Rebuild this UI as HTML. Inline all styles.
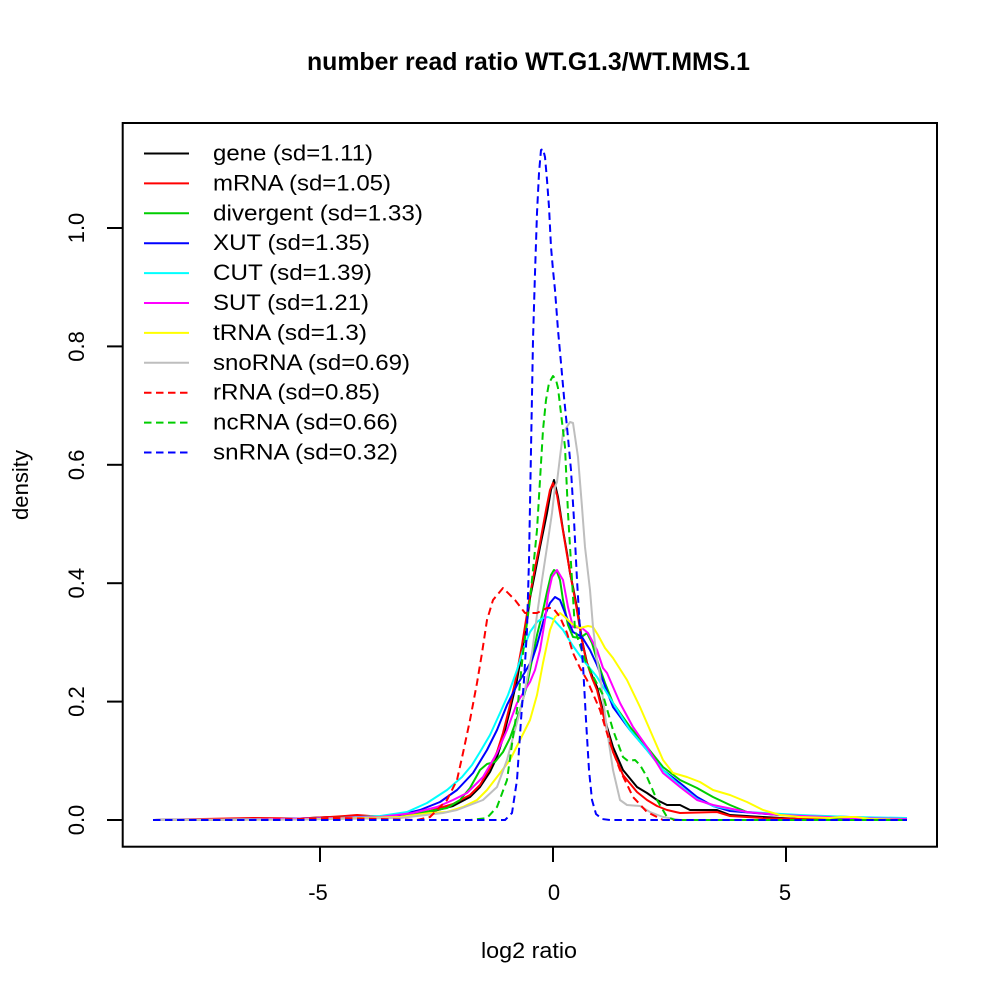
<!DOCTYPE html>
<html>
<head>
<meta charset="utf-8">
<style>
html,body{margin:0;padding:0;background:#fff;}
svg{display:block;}
text{font-family:"Liberation Sans",Arial,sans-serif;fill:#000;}
</style>
</head>
<body>
<svg width="1000" height="1000" viewBox="0 0 1000 1000" xmlns="http://www.w3.org/2000/svg">
<rect width="1000" height="1000" fill="#fff"/>

<!-- Title -->
<text x="307" y="70" font-size="25" font-weight="bold" textLength="443" lengthAdjust="spacingAndGlyphs">number read ratio WT.G1.3/WT.MMS.1</text>

<!-- curves -->
<g fill="none" stroke-width="2" stroke-linejoin="round" stroke-linecap="butt">
<!-- gene -->
<polyline stroke="#000000" points="153,820 250,819.5 300,818.5 330,817 360,817.5 380,818 407,817 430,812 453,806 470,797 480,787 490,772 497,757 503,738 510,710 517,680 523,645 527,620 530,598 535,573 540,547 547,513 551,490 554,480 558,497 563,530 567,553 570,573 573,587 578,613 582,640 587,663 593,678 597,687 607,727 613,747 623,770 637,787 647,793 657,800 667,805 680,805 690,810 717,810 730,815 763,817 800,819 850,819.5 907,820"/>
<!-- mRNA -->
<polyline stroke="#FF0000" points="153,820 253,818 300,818.5 330,817 345,816 357,815 370,816 390,817 405,817 430,811 453,804 470,795 480,785 490,768 497,752 503,733 510,705 516,678 522,645 526,620 530,595 535,568 540,543 546,510 550,490 553,483 557,495 562,525 567,555 571,578 576,605 581,635 586,660 592,678 597,690 607,730 613,752 623,775 637,792 647,800 657,806 667,810 680,813 717,812 730,816 763,818 800,819 907,820"/>
<!-- divergent -->
<polyline stroke="#00CD00" points="153,820 280,819 330,818 380,817 420,813 447,808 460,800 470,788 480,770 487,764 495,762 503,752 510,738 520,710 527,685 533,655 537,635 542,615 547,592 551,575 554,570 557,572 560,580 563,600 568,625 573,637 580,638 587,633 592,643 597,660 605,683 613,703 630,727 647,747 663,767 680,780 697,788 713,797 730,805 747,812 780,815 830,818 907,820"/>
<!-- XUT -->
<polyline stroke="#0000FF" points="153,820 280,819 340,818 360,818 400,815 420,810 440,802 457,790 473,773 487,750 497,730 507,705 517,685 525,672 532,660 537,645 541,630 545,615 550,603 555,597 560,600 567,618 573,632 582,637 590,650 597,665 613,707 630,730 647,750 663,770 680,783 697,797 713,806 730,811 780,815 850,817 907,819"/>
<!-- CUT -->
<polyline stroke="#00FFFF" points="153,820 280,819 340,818 380,816 407,812 427,803 447,790 462,777 472,765 480,752 490,735 500,713 508,695 517,670 523,650 530,632 537,622 543,618 548,617 553,619 563,630 573,646 583,660 593,672 597,677 613,703 630,730 647,750 663,770 680,786 697,799 713,806 747,812 800,815 850,817 907,818"/>
<!-- SUT -->
<polyline stroke="#FF00FF" points="153,820 280,819 340,818 380,817 413,813 437,807 453,800 467,793 483,777 497,753 507,730 517,703 525,690 530,682 535,670 540,650 545,620 548,595 552,577 557,570 563,580 568,607 573,627 582,628 588,633 597,650 603,668 607,673 620,703 633,727 647,747 663,773 680,787 697,800 713,805 747,812 780,815 850,818 907,819"/>
<!-- tRNA -->
<polyline stroke="#FFFF00" points="153,820 300,819.5 400,817 430,813 447,812 463,807 477,800 487,790 497,777 510,760 520,740 530,720 537,695 543,663 550,630 555,617 560,613 565,617 572,624 580,628 588,626 593,627 598,635 605,648 613,658 627,680 640,707 653,737 663,760 673,773 687,777 700,782 713,790 730,795 747,802 763,810 780,815 800,817 830,818 840,817 856,817 870,819 907,820"/>
<!-- snoRNA -->
<polyline stroke="#BEBEBE" points="153,820 300,819.5 400,818 443,813 457,810 470,805 483,800 497,787 507,760 515,730 523,700 532,653 537,615 542,580 547,547 552,513 555,487 557,482 560,457 563,433 570,422 573,423 578,457 582,507 585,547 590,590 593,627 597,660 600,675 607,730 613,770 620,800 627,805 640,806 650,812 663,817 680,820 907,820"/>
<!-- rRNA -->
<polyline stroke="#FF0000" stroke-dasharray="7.5 4.5" points="153,820 250,820 300,819 330,818 360,818.5 400,819.5 417,820 430,817 447,800 457,780 463,753 470,720 477,683 482,653 487,620 493,600 503,588 515,600 525,613 537,613 547,608 553,608 560,617 567,633 573,653 580,668 587,680 600,710 610,743 620,770 633,797 647,812 663,820 907,820"/>
<!-- ncRNA -->
<polyline stroke="#00CD00" stroke-dasharray="7.5 4.5" points="153,820 470,820 487,818 497,807 507,780 513,737 518,703 523,653 530,600 537,530 540,480 543,430 546,400 549,383 553,376 556,380 558,388 560,405 565,447 568,513 572,580 575,630 585,660 595,680 603,695 613,730 623,757 628,761 635,760 640,765 647,777 657,800 667,817 675,820 907,820"/>
<!-- snRNA -->
<polyline stroke="#0000FF" stroke-dasharray="7.5 4.5" points="153,820 505,820 512,813 517,780 521,720 524,680 527,630 529,560 531,450 533,340 535,273 537,213 539,173 541,150 543,149 545,157 547,180 549,207 551,247 553,270 555,290 558,330 561,363 564,397 567,427 571,470 574,520 577,580 580,630 583,665 586,720 589,770 592,800 596,814 602,819 610,820 907,820"/>
</g>

<!-- box -->
<rect x="122.7" y="123" width="814.3" height="723.7" fill="none" stroke="#000" stroke-width="2"/>

<!-- x axis ticks -->
<g stroke="#000" stroke-width="2">
<line x1="320" y1="847" x2="320" y2="862"/>
<line x1="553" y1="847" x2="553" y2="862"/>
<line x1="786" y1="847" x2="786" y2="862"/>
<!-- y ticks -->
<line x1="107" y1="820" x2="122" y2="820"/>
<line x1="107" y1="701.6" x2="122" y2="701.6"/>
<line x1="107" y1="583.2" x2="122" y2="583.2"/>
<line x1="107" y1="464.8" x2="122" y2="464.8"/>
<line x1="107" y1="346.4" x2="122" y2="346.4"/>
<line x1="107" y1="228" x2="122" y2="228"/>
</g>

<!-- x tick labels -->
<g font-size="22" text-anchor="middle">
<text x="318" y="900">-5</text>
<text x="554" y="900">0</text>
<text x="785" y="900">5</text>
</g>
<text x="529" y="958" font-size="22" text-anchor="middle" textLength="96" lengthAdjust="spacingAndGlyphs">log2 ratio</text>

<!-- y tick labels (rotated) -->
<g font-size="22" text-anchor="middle">
<text transform="translate(84,820) rotate(-90)">0.0</text>
<text transform="translate(84,701.6) rotate(-90)">0.2</text>
<text transform="translate(84,583.2) rotate(-90)">0.4</text>
<text transform="translate(84,464.8) rotate(-90)">0.6</text>
<text transform="translate(84,346.4) rotate(-90)">0.8</text>
<text transform="translate(84,228) rotate(-90)">1.0</text>
</g>
<text transform="translate(28,485) rotate(-90)" font-size="22" text-anchor="middle" textLength="70" lengthAdjust="spacingAndGlyphs">density</text>

<!-- legend -->
<g fill="none" stroke-width="2">
<line x1="144" y1="153.5" x2="189" y2="153.5" stroke="#000000"/>
<line x1="144" y1="183.4" x2="189" y2="183.4" stroke="#FF0000"/>
<line x1="144" y1="213.3" x2="189" y2="213.3" stroke="#00CD00"/>
<line x1="144" y1="243.2" x2="189" y2="243.2" stroke="#0000FF"/>
<line x1="144" y1="273.1" x2="189" y2="273.1" stroke="#00FFFF"/>
<line x1="144" y1="303" x2="189" y2="303" stroke="#FF00FF"/>
<line x1="144" y1="332.9" x2="189" y2="332.9" stroke="#FFFF00"/>
<line x1="144" y1="362.8" x2="189" y2="362.8" stroke="#BEBEBE"/>
<line x1="144" y1="392.7" x2="189" y2="392.7" stroke="#FF0000" stroke-dasharray="7.5 4.5"/>
<line x1="144" y1="422.6" x2="189" y2="422.6" stroke="#00CD00" stroke-dasharray="7.5 4.5"/>
<line x1="144" y1="452.5" x2="189" y2="452.5" stroke="#0000FF" stroke-dasharray="7.5 4.5"/>
</g>
<g font-size="22">
<text x="213" y="160.5" textLength="160" lengthAdjust="spacingAndGlyphs">gene (sd=1.11)</text>
<text x="213" y="190.4" textLength="178" lengthAdjust="spacingAndGlyphs">mRNA (sd=1.05)</text>
<text x="213" y="220.3" textLength="210" lengthAdjust="spacingAndGlyphs">divergent (sd=1.33)</text>
<text x="213" y="250.2" textLength="157" lengthAdjust="spacingAndGlyphs">XUT (sd=1.35)</text>
<text x="213" y="280.1" textLength="159" lengthAdjust="spacingAndGlyphs">CUT (sd=1.39)</text>
<text x="213" y="310" textLength="156" lengthAdjust="spacingAndGlyphs">SUT (sd=1.21)</text>
<text x="213" y="339.9" textLength="154" lengthAdjust="spacingAndGlyphs">tRNA (sd=1.3)</text>
<text x="213" y="369.8" textLength="197" lengthAdjust="spacingAndGlyphs">snoRNA (sd=0.69)</text>
<text x="213" y="399.7" textLength="167" lengthAdjust="spacingAndGlyphs">rRNA (sd=0.85)</text>
<text x="213" y="429.6" textLength="185" lengthAdjust="spacingAndGlyphs">ncRNA (sd=0.66)</text>
<text x="213" y="459.5" textLength="185" lengthAdjust="spacingAndGlyphs">snRNA (sd=0.32)</text>
</g>
</svg>
</body>
</html>
